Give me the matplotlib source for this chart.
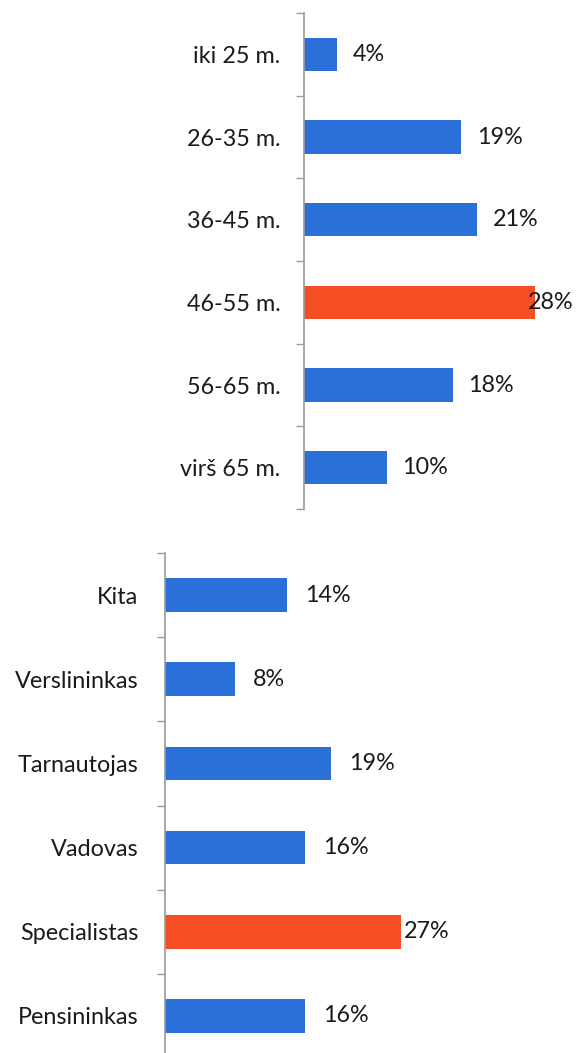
import numpy as np
import matplotlib.pyplot as plt

plt.rcParams['font.family'] = ['Lato', 'DejaVu Sans']

# age groups
age_labels = ["iki 25 m.", "26-35 m.", "36-45 m.", "46-55 m.", "56-65 m.", "virš 65 m."]
age_values = [4, 19, 21, 28, 18, 10]

# occupation
job_labels = ["Kita", "Verslininkas", "Tarnautojas", "Vadovas", "Specialistas", "Pensininkas"]
job_values = [14, 8, 19, 16, 27, 16]

BLUE = "#2B6FD8"
ORANGE = "#F44E22"
AXIS_GREY = "#9a9a9a"
FS = 16.8

W, H = 576, 1053
fig = plt.figure(figsize=(W / 100, H / 100), dpi=100)


def draw(rect, labels, values, xmax, pad_out, pad_in, label_pad):
    ax = fig.add_axes(rect)
    y = np.arange(len(labels))
    top = max(values)
    colors = [ORANGE if v == top else BLUE for v in values]
    ax.barh(y, values, height=0.4, color=colors)
    ax.set_xlim(0, xmax)
    ax.set_ylim(len(labels) - 0.5, -0.5)

    # tick marks on category boundaries, labels at centres
    ax.set_yticks(np.arange(-0.5, len(labels)))
    ax.set_yticklabels([])
    ax.set_yticks(y, minor=True)
    ax.set_yticklabels(labels, minor=True, fontsize=FS, color="#1a1a1a")
    ax.tick_params(axis="y", which="major", length=6, width=1, color=AXIS_GREY)
    ax.tick_params(axis="y", which="minor", length=0, pad=label_pad)

    ax.xaxis.set_visible(False)
    for s in ["top", "right", "bottom"]:
        ax.spines[s].set_visible(False)
    ax.spines["left"].set_color(AXIS_GREY)
    ax.spines["left"].set_linewidth(1.2)

    for yi, v in zip(y, values):
        off = pad_in if v >= xmax else pad_out
        ax.annotate(f"{v}%", (v, yi), xytext=(off, 0), textcoords="offset pixels",
                    ha="left", va="center", fontsize=FS, color="#1a1a1a",
                    annotation_clip=False)
    return ax


draw([304 / W, 1 - 509 / H, (535 - 304) / W, (509 - 13) / H],
     age_labels, age_values, 28, 16, -7, 17)
draw([165 / W, 1 - 1058 / H, (401 - 165) / W, (1058 - 553) / H],
     job_labels, job_values, 27, 18, 3, 19)

fig.savefig("out.png", dpi=100)
